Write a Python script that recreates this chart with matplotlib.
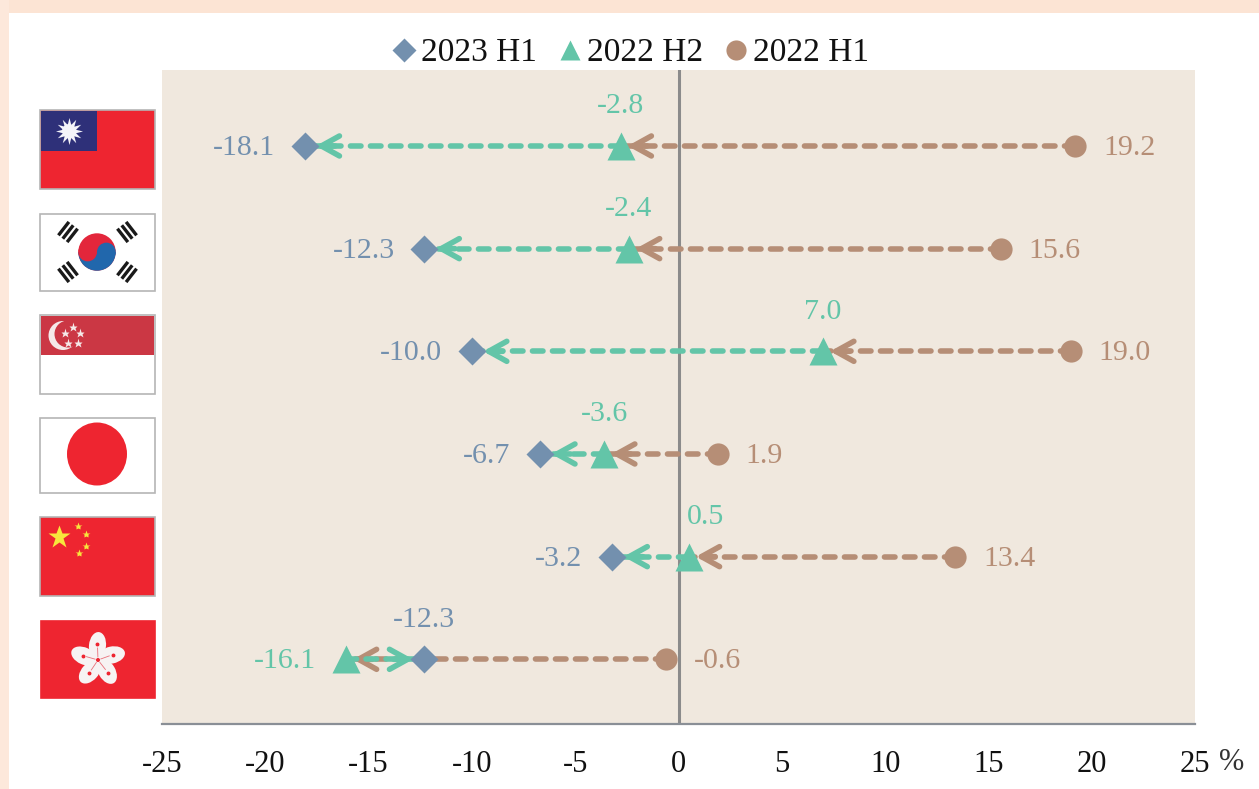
import numpy as np
import matplotlib
matplotlib.use('Agg')
import matplotlib.pyplot as plt
from matplotlib.lines import Line2D
from matplotlib.patches import Circle, Ellipse, Rectangle, Wedge

plt.rcParams['font.family'] = ['Liberation Serif', 'DejaVu Serif']
plt.rcParams['axes.unicode_minus'] = False

# Values
regions = ['Taiwan', 'South Korea', 'Singapore', 'Japan', 'China', 'Hong Kong']
h1_2023 = [-18.1, -12.3, -10.0, -6.7, -3.2, -12.3]
h2_2022 = [-2.8, -2.4, 7.0, -3.6, 0.5, -16.1]
h1_2022 = [19.2, 15.6, 19.0, 1.9, 13.4, -0.6]
xticks = [-25, -20, -15, -10, -5, 0, 5, 10, 15, 20, 25]

BLUE = '#7390ae'
GREEN = '#63c5a8'
BROWN = '#b68e76'
PANEL = '#f0e8de'
RED = '#ee2530'

fig = plt.figure(figsize=(12.59, 7.89), dpi=100, facecolor='white')

# Pixel-coordinate layer for page background and flags
bg = fig.add_axes([0, 0, 1, 1], zorder=0)
bg.set_xlim(0, 1259)
bg.set_ylim(789, 0)
bg.axis('off')
bg.add_patch(Rectangle((0, 0), 1259, 13, fc='#fce4d4', ec='none'))
bg.add_patch(Rectangle((0, 0), 9, 789, fc='#fde8db', ec='none'))


def flag_box(y0, y1, color='white', x0=40, x1=155, edge='#b5b5b5'):
    bg.add_patch(Rectangle((x0, y0), x1 - x0, y1 - y0, fc=color, ec=edge, lw=1.2))


def star(x, y, size, color):
    bg.plot([x], [y], marker='*', ms=size, color=color, mec='none', ls='none')


def flag_taiwan():
    flag_box(110, 189, RED)
    bg.add_patch(Rectangle((41, 111), 56, 40, fc='#2e3079', ec='none'))
    bg.plot([69], [131], marker=(12, 1, 0), ms=19.5, color='#f4f4fa', mec='none', ls='none')
    bg.add_patch(Circle((69, 131), 8, fc='#2e3079', ec='none'))
    bg.add_patch(Circle((69, 131), 6.8, fc='white', ec='none'))


def flag_korea():
    flag_box(214, 291)
    cx, cy, r = 97, 252, 18.7
    bg.add_patch(Circle((cx, cy), r, fc='#e3263b', ec='none'))
    bg.add_patch(Wedge((cx, cy), r, 0, 180, fc='#2167ac', ec='none'))
    bg.add_patch(Circle((cx - r / 2, cy), r / 2, fc='#e3263b', ec='none'))
    bg.add_patch(Circle((cx + r / 2, cy), r / 2, fc='#2167ac', ec='none'))
    # trigrams at the four corners
    for tx, ty, ang in [(68, 232, -52), (127, 232, 52), (68, 272, 52), (127, 272, -52)]:
        ca, sa = np.cos(np.radians(ang)), np.sin(np.radians(ang))
        for off in [-5.5, 0, 5.5]:
            px, py = tx - sa * off, ty + ca * off
            bg.plot([px - 8.5 * ca, px + 8.5 * ca], [py - 8.5 * sa, py + 8.5 * sa],
                    color='#1a1a1a', lw=2.4, solid_capstyle='butt')


def flag_singapore():
    flag_box(315, 394)
    bg.add_patch(Rectangle((41, 316), 113, 39, fc='#cb3744', ec='none'))
    bg.add_patch(Circle((63, 335.5), 14.5, fc='#f5e9e9', ec='none'))
    bg.add_patch(Circle((68, 334), 13.5, fc='#cb3744', ec='none'))
    for sx, sy in [(73, 327), (65, 333), (80, 333), (68, 343), (78, 343)]:
        star(sx, sy, 6.5, '#f5e9e9')


def flag_japan():
    flag_box(418, 493)
    bg.add_patch(Ellipse((97, 454), 60, 63, fc=RED, ec='none'))


def flag_china():
    flag_box(517, 596, RED)
    star(59, 537, 17, '#f8e63c')
    for sx, sy in [(78, 526), (86, 534), (86, 546), (79, 553)]:
        star(sx, sy, 6, '#f8e63c')


def flag_hong_kong():
    flag_box(621, 698, RED, x0=41, edge=RED)
    cx, cy = 98, 660
    for ang in [-92, -20, 52, 124, 196]:
        ca, sa = np.cos(np.radians(ang)), np.sin(np.radians(ang))
        bg.add_patch(Ellipse((cx + 14.5 * ca, cy + 14.5 * sa), 27, 17, angle=ang + 8,
                             fc='#f7f3f3', ec='none'))
        bg.plot([cx + 3 * ca, cx + 12 * ca], [cy + 3 * sa, cy + 12 * sa],
                color='#e8707a', lw=0.6)
        bg.plot([cx + 16 * ca], [cy + 16 * sa], marker='o', ms=1.8, color=RED, ls='none')
    bg.add_patch(Circle((cx, cy), 2, fc=RED, ec='none'))


flag_taiwan()
flag_korea()
flag_singapore()
flag_japan()
flag_china()
flag_hong_kong()

# Main chart
ax = fig.add_axes([162 / 1259, 1 - 724 / 789, 1033 / 1259, 654 / 789], zorder=1)
ax.set_facecolor(PANEL)
rows = np.arange(len(regions))
ax.set_xlim(-25, 25)
ax.set_ylim(5.63, -0.74)

for s in ['top', 'right', 'left']:
    ax.spines[s].set_visible(False)
ax.spines['bottom'].set_color('#8a8f96')
ax.spines['bottom'].set_linewidth(1.6)
ax.axvline(0, color='#8b8b8b', lw=2.2, zorder=1)

ax.set_yticks([])
ax.set_xticks(xticks)
ax.set_xticklabels([str(t) for t in xticks], fontsize=22, color='#111111')
ax.tick_params(axis='x', length=0, pad=19)
ax.annotate('%', xy=(25, 0), xycoords=('data', 'axes fraction'), xytext=(17, -28),
            textcoords='offset points', fontsize=22, color='#333333', ha='left', va='center')


def arrow(src, tgt, row, color, shrink, z):
    ax.plot([src, tgt], [row, row], color=color, lw=4, ls=(0, (1.9, 1.7)),
            dash_capstyle='round', zorder=z)
    sign = 1 if src > tgt else -1
    ax.annotate('', xy=(tgt, row), xytext=(sign * (shrink + 14), 0), textcoords='offset points',
                arrowprops=dict(arrowstyle='->,head_length=1.3,head_width=0.72',
                                mutation_scale=10, color=color, lw=4, shrinkA=0,
                                shrinkB=shrink, capstyle='round', joinstyle='round'),
                zorder=z)


for r in rows:
    arrow(h1_2022[r], h2_2022[r], r, BROWN, 5, 2)
    arrow(h2_2022[r], h1_2023[r], r, GREEN, 8, 3)

ax.plot(h1_2022, rows, 'o', color=BROWN, ms=16, mec='none', zorder=5, clip_on=False)
ax.plot(h1_2023, rows, 'D', color=BLUE, ms=14, mec='none', zorder=5, clip_on=False)
ax.plot(h2_2022, rows, '^', color=GREEN, ms=19.5, mec='none', zorder=5, clip_on=False)


def label(v, r, color, side, dx=0):
    off = {'left': (-21.5, -1.5), 'right': (20, -1.5), 'top': (dx, 28.5)}[side]
    ha = {'left': 'right', 'right': 'left', 'top': 'center'}[side]
    ax.annotate(f'{v:.1f}', xy=(v, r), xytext=off, textcoords='offset points',
                fontsize=21.5, color=color, ha=ha, va='center')


for r, name in enumerate(regions):
    if name == 'Hong Kong':
        label(h1_2023[r], r, BLUE, 'top')
        label(h2_2022[r], r, GREEN, 'left')
    else:
        label(h1_2023[r], r, BLUE, 'left')
        label(h2_2022[r], r, GREEN, 'top', dx=12 if name == 'China' else 0)
    label(h1_2022[r], r, BROWN, 'right')

handles = [
    Line2D([], [], marker='D', color=BLUE, ls='none', ms=12, mec='none', label='2023 H1'),
    Line2D([], [], marker='^', color=GREEN, ls='none', ms=15, mec='none', label='2022 H2'),
    Line2D([], [], marker='o', color=BROWN, ls='none', ms=14.5, mec='none', label='2022 H1'),
]
fig.legend(handles=handles, loc='center', bbox_to_anchor=(628 / 1259, 1 - 53 / 789), ncol=3,
           frameon=False, fontsize=24, labelcolor='#111111', handletextpad=0.0,
           columnspacing=0.5, handlelength=1.0, borderpad=0)

plt.savefig('out.png', dpi=100)
